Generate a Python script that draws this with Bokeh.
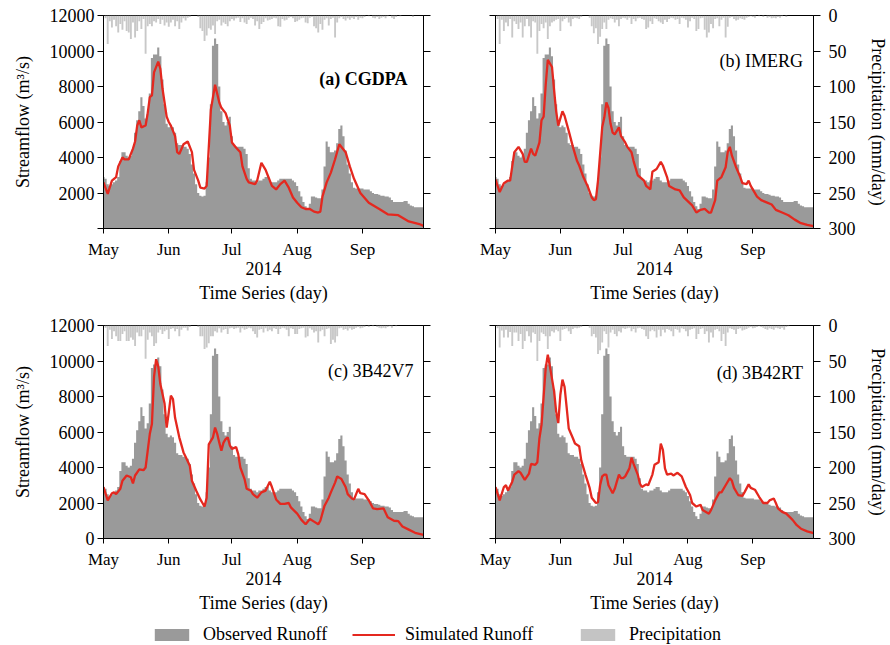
from bokeh.plotting import figure
from bokeh.models import Range1d, LinearAxis, FixedTicker, Label, Legend, LegendItem
from bokeh.layouts import column, row
from bokeh.embed import file_html
from bokeh.resources import INLINE

FONT = "Liberation Serif"
OBS_COLOR = "#9a9a9a"
PRE_COLOR = "#c8c8c8"
SIM_COLOR = "#e4281f"

# ---------------- data ----------------
days = list(range(153))  # 1 May 2014 ... 30 Sep 2014
month_ticks = [0, 31, 61, 92, 123]
month_labels = ["May", "Jun", "Jul", "Aug", "Sep"]
flow_ticks = [0, 2000, 4000, 6000, 8000, 10000, 12000]
precip_ticks = [0, 50, 100, 150, 200, 250, 300]

observed = [2900, 2800, 2500, 2400, 2500, 2600, 2700, 2900, 3800, 4300,
            4300, 4100, 4000, 4100, 4500, 5400, 6100, 6600, 7400, 6900,
            6200, 6500, 7600, 9600, 9800, 9800, 10200, 9700, 8400, 7000,
            5900, 5700, 5800, 5700, 5400, 4800, 4700, 4700, 4600, 4600,
            4500, 4200, 3600, 3100, 2500, 2000, 1850, 1800, 1850, 2600,
            4000, 7000, 10300, 10700, 10400, 8000, 6600, 6000, 5800, 6000,
            6300, 5200, 4700, 4600, 4600, 4600, 4600, 4500, 4200, 3400,
            2800, 2700, 2700, 2600, 2700, 2700, 2800, 2900, 2900, 2700,
            2600, 2600, 2600, 2700, 2800, 2800, 2800, 2800, 2800, 2800,
            2700, 2600, 2400, 2100, 1800, 1500, 1250, 1100, 1400, 1800,
            1800, 1750, 1700, 1700, 2200, 3500, 4900, 4600, 4300, 4300,
            4400, 4800, 5600, 5800, 5200, 4400, 3600, 3100, 2600, 2300,
            2250, 2250, 2250, 2250, 2200, 2200, 2200, 2100, 2000, 1950,
            1950, 1900, 1850, 1850, 1800, 1800, 1750, 1600, 1500, 1500,
            1500, 1500, 1500, 1550, 1550, 1400, 1300, 1250, 1200, 1200,
            1200, 1200, 1200]

precip_cgdpa = [0, 4, 40, 8, 17, 6, 15, 24, 12, 20,
                8, 22, 24, 33, 10, 31, 22, 8, 19, 5,
                54, 15, 12, 15, 8, 10, 5, 12, 6, 14,
                10, 16, 10, 6, 15, 8, 19, 10, 4, 7,
                3, 2, 0, 0, 0, 2, 18, 22, 36, 28,
                18, 20, 14, 26, 8, 6, 14, 10, 12, 15,
                8, 5, 7, 4, 3, 9, 4, 10, 12, 6,
                3, 5, 14, 8, 19, 12, 9, 4, 7, 6,
                5, 3, 4, 15, 16, 5, 7, 6, 3, 2,
                4, 9, 8, 6, 4, 3, 10, 11, 3, 2,
                15, 18, 24, 12, 20, 6, 4, 14, 5, 3,
                31, 10, 4, 2, 5, 7, 4, 6, 3, 5,
                2, 6, 3, 4, 2, 0, 1, 0, 3, 4,
                2, 5, 3, 2, 4, 1, 0, 3, 5, 2,
                0, 1, 0, 0, 0, 0, 0, 2, 0, 0,
                0, 0, 0]
precip_imerg = [0, 5, 40, 6, 22, 10, 15, 5, 31, 8,
                12, 19, 10, 31, 15, 5, 15, 31, 8, 10,
                54, 22, 12, 18, 10, 33, 15, 10, 8, 6,
                5, 22, 8, 5, 3, 10, 15, 5, 3, 4,
                5, 2, 0, 0, 0, 3, 15, 25, 18, 40,
                30, 19, 10, 19, 6, 4, 5, 10, 6, 15,
                5, 3, 4, 6, 3, 12, 5, 8, 4, 3,
                5, 6, 19, 17, 8, 12, 4, 5, 8, 10,
                12, 6, 9, 5, 3, 4, 6, 5, 12, 3,
                4, 6, 17, 8, 3, 5, 22, 19, 4, 3,
                20, 31, 24, 12, 18, 5, 4, 15, 6, 3,
                31, 16, 3, 2, 5, 7, 6, 4, 5, 6,
                3, 2, 1, 2, 3, 0, 1, 0, 2, 0,
                3, 2, 4, 3, 4, 2, 3, 1, 0, 2,
                0, 0, 0, 0, 0, 0, 0, 0, 0, 0,
                0, 0, 0]
precip_v7 = [0, 3, 29, 6, 19, 8, 15, 22, 22, 12,
             8, 22, 22, 17, 20, 29, 10, 15, 15, 6,
             47, 20, 10, 15, 29, 25, 10, 6, 12, 8,
             6, 19, 5, 4, 8, 5, 15, 6, 3, 3,
             7, 2, 0, 0, 0, 2, 15, 15, 33, 31,
             25, 15, 15, 8, 10, 4, 10, 6, 5, 12,
             4, 3, 5, 4, 3, 10, 4, 6, 5, 3,
             4, 8, 12, 17, 6, 5, 10, 4, 8, 6,
             8, 4, 5, 12, 5, 3, 4, 6, 15, 4,
             5, 12, 12, 5, 4, 3, 17, 15, 4, 6,
             10, 8, 24, 8, 6, 15, 5, 4, 26, 20,
             24, 15, 4, 3, 6, 5, 7, 4, 6, 5,
             3, 2, 4, 3, 2, 0, 2, 0, 1, 0,
             2, 3, 4, 3, 4, 2, 1, 3, 0, 1,
             0, 0, 0, 0, 0, 0, 0, 0, 0, 0,
             0, 0, 0]
precip_rt = [0, 4, 31, 7, 17, 6, 17, 9, 29, 10,
             10, 22, 12, 33, 22, 8, 15, 24, 10, 12,
             50, 22, 10, 12, 15, 33, 15, 8, 10, 6,
             8, 22, 6, 5, 4, 8, 12, 5, 3, 4,
             3, 2, 0, 0, 0, 3, 15, 12, 17, 40,
             35, 24, 8, 12, 31, 10, 6, 12, 15, 8,
             10, 4, 5, 4, 3, 8, 5, 10, 4, 3,
             5, 6, 15, 19, 8, 6, 8, 17, 6, 15,
             6, 10, 5, 6, 8, 15, 5, 6, 10, 4,
             5, 8, 15, 6, 5, 4, 19, 12, 5, 4,
             12, 8, 24, 10, 17, 6, 5, 8, 22, 12,
             29, 10, 4, 5, 6, 12, 5, 4, 7, 6,
             5, 3, 2, 4, 3, 2, 1, 2, 3, 5,
             6, 4, 5, 6, 3, 4, 5, 3, 6, 2,
             1, 0, 0, 0, 0, 0, 0, 0, 0, 0,
             0, 0, 0]

sim_cgdpa_day = [0, 2, 4, 6, 7, 9, 10, 12, 14, 15, 16, 17, 18, 20, 21, 22, 23, 24, 26, 27,
                 28, 30, 31, 32, 34, 35, 36, 38, 40, 42, 43, 45, 46, 48, 49, 51, 53, 55, 56, 58,
                 60, 61, 63, 65, 66, 68, 69, 72, 73, 75, 77, 78, 80, 82, 84, 86, 88, 90, 92, 94,
                 96, 98, 100, 102, 103, 104, 106, 108, 110, 112, 115, 117, 119, 122, 126, 131, 135, 140, 145, 150,
                 152]
sim_cgdpa = [2600, 1950, 2700, 2900, 3500, 4000, 3900, 3900, 4500, 4900, 5800, 6100, 5700, 5800, 6500, 7400, 7500, 8800, 9400, 9000,
             7900, 6300, 6000, 5800, 5200, 4300, 4200, 4750, 4900, 4300, 3300, 2700, 2300, 2250, 2400, 6700, 8100, 7100, 6800, 6500,
             5800, 4850, 4550, 4300, 3500, 2800, 2600, 2500, 2700, 3700, 3300, 3000, 2400, 2200, 2500, 2700, 2300, 1750, 1450, 1200,
             1100, 1100, 950, 900, 950, 1800, 2600, 3150, 3900, 4750, 4300, 3500, 2800, 2000, 1450, 1100, 800, 750, 400, 250,
             150]

sim_imerg_day = [0, 2, 4, 6, 7, 9, 11, 13, 14, 15, 17, 18, 19, 21, 22, 23, 24, 25, 27, 28,
                 29, 30, 31, 32, 33, 35, 37, 39, 40, 42, 44, 46, 47, 48, 49, 51, 52, 53, 54, 55,
                 56, 57, 59, 60, 62, 63, 65, 66, 68, 71, 72, 74, 75, 77, 79, 80, 82, 83, 86, 88,
                 90, 94, 96, 98, 100, 102, 103, 105, 106, 108, 110, 111, 112, 113, 115, 117, 118, 120, 121, 122,
                 125, 127, 129, 132, 134, 137, 140, 143, 146, 149, 152]
sim_imerg = [2750, 2050, 2550, 2700, 2700, 4300, 4600, 4200, 3750, 3750, 4500, 4200, 4100, 4850, 6100, 6300, 8100, 9500, 9100, 7800,
             6600, 5800, 6200, 6600, 6350, 5500, 4600, 3800, 3550, 2900, 2400, 1750, 1600, 1650, 2700, 5700, 6250, 7100, 6800, 5900,
             5400, 5300, 5700, 5200, 4850, 4600, 4300, 3800, 3000, 2700, 2400, 2200, 3200, 3350, 3750, 3550, 2900, 2400, 2200, 2150,
             1750, 1300, 900, 1050, 1100, 900, 900, 1600, 2700, 2900, 3450, 4300, 4600, 4100, 3450, 2900, 2550, 2500, 2700, 2400,
             1800, 1600, 1500, 1350, 1050, 900, 750, 500, 300, 200, 130]

sim_v7_day = [0, 2, 4, 5, 6, 8, 9, 11, 13, 14, 15, 17, 19, 20, 21, 22, 23, 24, 25, 26,
              27, 29, 30, 31, 32, 33, 34, 36, 38, 39, 41, 42, 44, 46, 47, 48, 49, 50, 52, 53,
              54, 55, 56, 57, 58, 59, 60, 61, 63, 64, 65, 67, 68, 70, 71, 73, 75, 77, 79, 80,
              82, 84, 86, 88, 89, 92, 94, 96, 98, 100, 102, 103, 105, 107, 108, 110, 111, 113, 115, 116,
              118, 119, 121, 122, 124, 126, 128, 130, 133, 135, 138, 140, 142, 145, 148, 152]
sim_v7 = [2900, 2150, 2550, 2600, 2500, 2800, 3250, 3550, 3450, 3100, 3550, 3900, 3850, 4000, 4950, 5900, 6450, 9100, 10100, 9700,
          8700, 7600, 6250, 7100, 8050, 7850, 6800, 5700, 4850, 4600, 4100, 3250, 2700, 2200, 2000, 1800, 2300, 5300, 5700, 6250,
          5900, 5400, 4950, 5400, 5600, 5700, 5250, 5050, 5150, 4750, 4000, 3350, 2800, 2700, 2500, 2300, 2600, 2700, 3200, 2900,
          2200, 1950, 1950, 2000, 1750, 1400, 1050, 800, 1100, 950, 800, 1000, 1850, 2300, 2600, 3150, 3500, 3350, 2900, 2500,
          2250, 2200, 2800, 2550, 2500, 2150, 1700, 1650, 1700, 1200, 1000, 980, 680, 500, 320, 200]

sim_rt_day = [0, 2, 4, 5, 6, 8, 9, 11, 12, 14, 16, 17, 19, 20, 21, 22, 23, 24, 25, 26,
              28, 29, 30, 31, 32, 33, 34, 35, 37, 38, 40, 41, 43, 45, 46, 48, 49, 50, 51, 52,
              53, 54, 56, 57, 58, 59, 60, 61, 62, 64, 65, 66, 68, 69, 70, 72, 73, 75, 76, 78,
              79, 80, 81, 82, 84, 85, 87, 89, 91, 93, 94, 96, 98, 99, 102, 103, 105, 107, 108, 110,
              112, 113, 114, 116, 118, 119, 121, 122, 124, 126, 128, 130, 131, 133, 134, 135, 137, 139, 142, 144,
              146, 149, 152]
sim_rt = [2900, 2150, 2900, 3000, 2700, 3200, 3600, 3800, 3700, 3300, 3650, 4200, 4150, 4300, 5650, 6400, 8000, 9600, 10350, 9700,
          8300, 7150, 6500, 8100, 8950, 8550, 7400, 6200, 5650, 5350, 5200, 4400, 3600, 2850, 2300, 2000, 2050, 3000, 3500, 3600,
          3600, 3000, 2550, 2800, 3200, 3600, 3400, 3400, 3500, 3950, 4550, 4200, 3600, 3100, 2900, 3050, 3000, 3600, 4150, 4300,
          5350, 5000, 3950, 3600, 3650, 3550, 3700, 3500, 2900, 2450, 2000, 1800, 1900, 1600, 1400, 1600, 2150, 2600, 2600, 3000,
          3400, 3250, 2850, 2450, 2400, 2600, 3050, 2850, 2750, 2350, 2000, 2000, 2150, 2250, 2000, 1700, 1500, 1400, 1050, 750,
          550, 400, 300]

FW, FH = 320, 213


def style_axis(ax, tick_out=6):
    ax.major_label_text_font = FONT
    ax.major_label_text_font_size = "18px"
    ax.major_label_text_color = "black"
    ax.axis_label_text_font = FONT
    ax.axis_label_text_font_size = "18px"
    ax.axis_label_text_font_style = "normal"
    ax.axis_label_text_color = "black"
    ax.minor_tick_line_color = None
    ax.minor_tick_out = 0
    ax.minor_tick_in = 0
    ax.major_tick_in = 0
    ax.major_tick_out = tick_out
    ax.axis_line_color = "black"
    ax.major_tick_line_color = "black"


def panel(precip, sim_day, sim_val, text, bold, left_side, hide_zero, bl, br, bt, bb, lx, ly):
    p = figure(width=bl + FW + br, height=bt + FH + bb,
               x_range=Range1d(0, 152), y_range=Range1d(0, 12000),
               output_backend="svg", toolbar_location=None,
               x_axis_location=None, y_axis_location=None,
               min_border_left=bl, min_border_right=br, min_border_top=bt, min_border_bottom=bb,
               outline_line_color="black", outline_line_width=1)
    p.xgrid.visible = False
    p.ygrid.visible = False
    p.extra_y_ranges = {"pr": Range1d(300, 0)}

    p.vbar(x=days, top=0, bottom=precip, width=0.9, y_range_name="pr",
           fill_color=PRE_COLOR, line_color=None)
    p.varea_step(x=days, y1=0, y2=observed, step_mode="center", fill_color=OBS_COLOR)
    p.line(sim_day, sim_val, line_color=SIM_COLOR, line_width=2.3)

    left = LinearAxis(ticker=FixedTicker(ticks=flow_ticks))
    style_axis(left)
    if left_side:
        left.axis_label = "Streamflow (m\u00b3/s)"
        left.major_label_standoff = 3
        left.axis_label_standoff = 14
        if hide_zero:
            left.major_label_overrides = {0: ""}
    else:
        left.major_label_overrides = {t: "" for t in flow_ticks}
    p.add_layout(left, "left")

    right = LinearAxis(y_range_name="pr", ticker=FixedTicker(ticks=precip_ticks))
    style_axis(right, tick_out=7)
    if not left_side:
        right.axis_label = "Precipitation (mm/day)"
        right.major_label_standoff = 8
        right.axis_label_standoff = 9
    else:
        right.major_label_overrides = {t: "" for t in precip_ticks}
    p.add_layout(right, "right")

    bx = LinearAxis(ticker=FixedTicker(ticks=month_ticks),
                    major_label_overrides=dict(zip(month_ticks, month_labels)))
    style_axis(bx, tick_out=5)
    bx.major_label_text_font_size = "17px"
    bx.major_label_standoff = 6
    bx.axis_label = "2014"
    bx.axis_label_standoff = 0
    p.add_layout(bx, "below")

    bx2 = LinearAxis(ticker=FixedTicker(ticks=[]))
    style_axis(bx2, tick_out=0)
    bx2.axis_line_color = None
    bx2.major_label_standoff = 0
    bx2.axis_label = "Time Series (day)"
    bx2.axis_label_standoff = 5
    p.add_layout(bx2, "below")

    p.add_layout(Label(x=lx, y=ly, text=text, text_align="right", text_baseline="middle",
                       text_font=FONT, text_font_size="18px",
                       text_font_style="bold" if bold else "normal", text_color="black"))
    return p


pa = panel(precip_cgdpa, sim_cgdpa_day, sim_cgdpa, "(a) CGDPA", True, True, True, 103, 20, 15, 82, 144.4, 8450)
pb = panel(precip_imerg, sim_imerg_day, sim_imerg, "(b) IMERG", False, False, False, 52, 75, 15, 82, 147, 9460)
pc = panel(precip_v7, sim_v7_day, sim_v7, "(c) 3B42V7", False, True, False, 103, 20, 15, 84, 147.3, 9460)
pd_ = panel(precip_rt, sim_rt_day, sim_rt, "(d) 3B42RT", False, False, False, 52, 75, 15, 84, 147, 9300)

lf = figure(width=890, height=23, x_range=Range1d(0, 1), y_range=Range1d(0, 1),
            output_backend="svg", toolbar_location=None,
            x_axis_location=None, y_axis_location=None,
            min_border=0, outline_line_color=None)
lf.xgrid.visible = False
lf.ygrid.visible = False
# legend proxies (kept outside the visible range)
r_obs = lf.vbar(x=[-5], top=[-5], width=1, fill_color=OBS_COLOR, line_color=None)
r_sim = lf.line(x=[-5, -4], y=[-5, -5], line_color=SIM_COLOR, line_width=2)
r_pre = lf.vbar(x=[-5], top=[-5], width=1, fill_color="#c4c4c4", line_color=None)
for r, lab, loc in [(r_obs, "Observed Runoff", (150, 0)),
                    (r_sim, "Simulated Runoff", (352, 0)),
                    (r_pre, "Precipitation", (576, 0))]:
    lg = Legend(items=[LegendItem(label=lab, renderers=[r])], location=loc,
                orientation="horizontal", border_line_color=None, background_fill_alpha=0,
                padding=0, margin=0, glyph_width=43, glyph_height=15, label_standoff=10,
                label_text_font=FONT, label_text_font_size="18px", label_text_color="black",
                spacing=0)
    lf.add_layout(lg)

layout = column(row(pa, pb), row(pc, pd_), lf)

with open("out.html", "w") as f:
    f.write(file_html(layout, INLINE))
